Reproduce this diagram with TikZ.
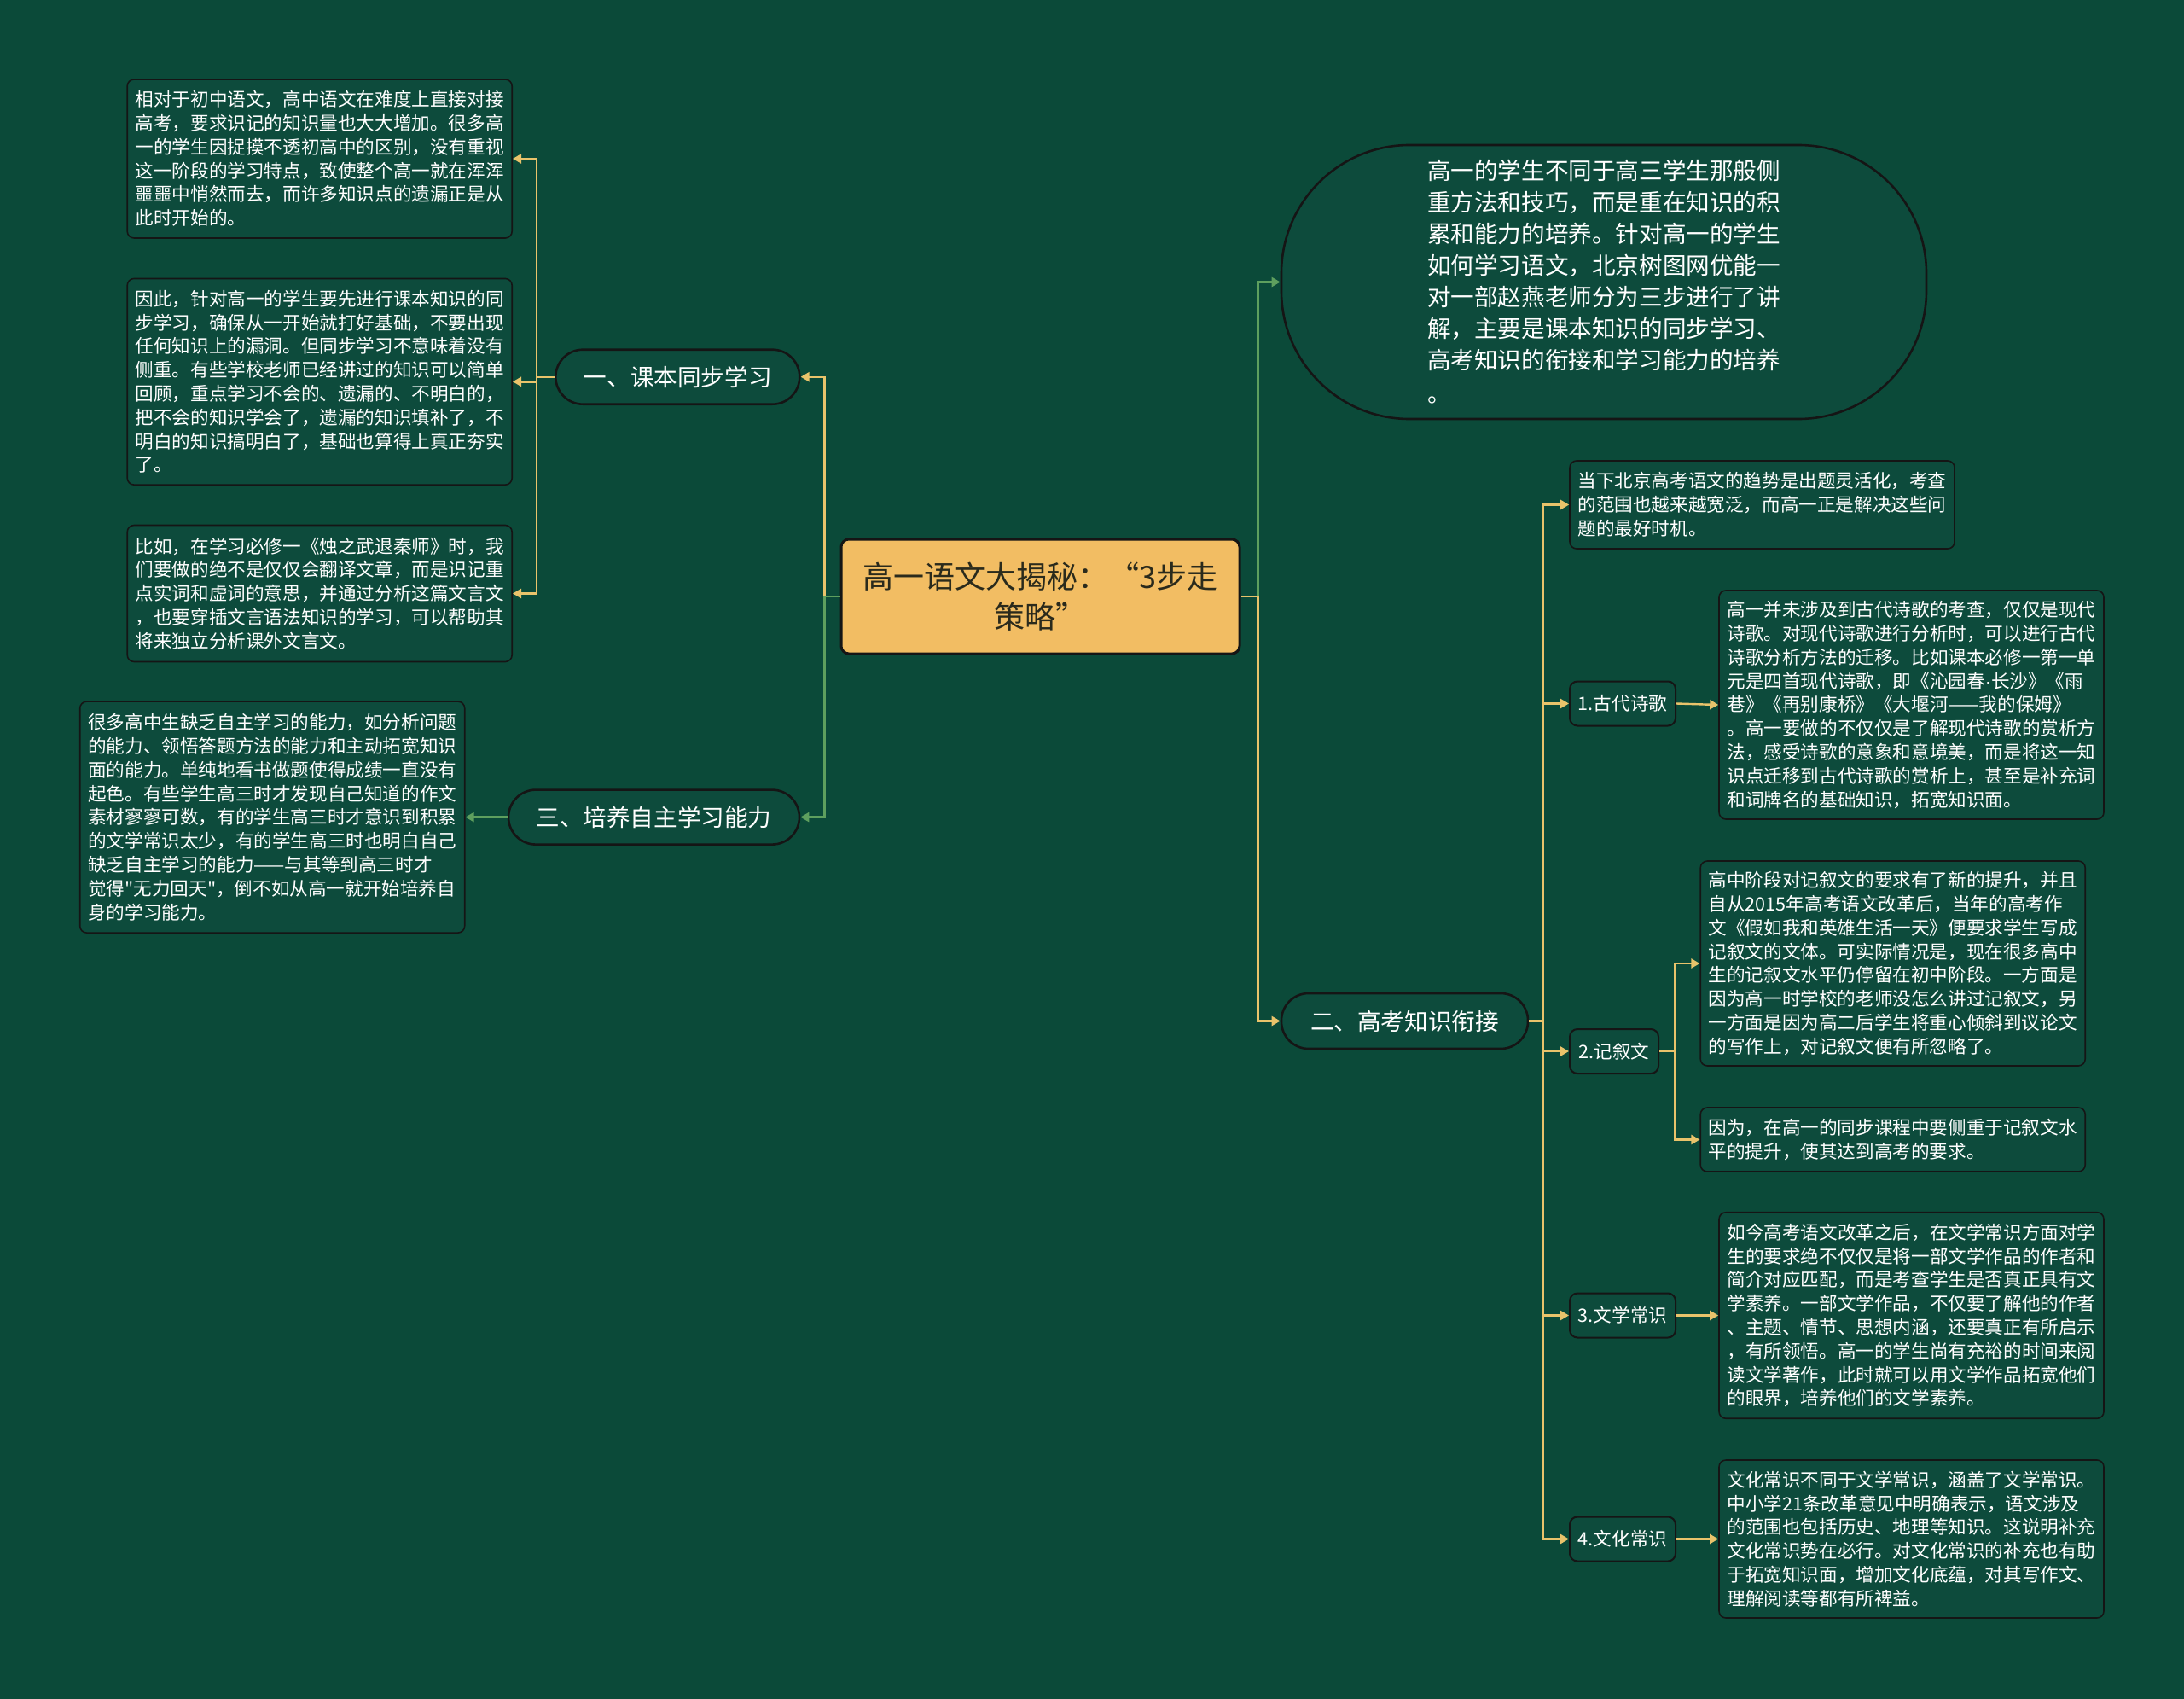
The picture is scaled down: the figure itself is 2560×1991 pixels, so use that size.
\documentclass[tikz,border=0pt]{standalone}
\usepackage{fontspec}
\setmainfont{Noto Sans CJK SC}[Ligatures=TeXOff]
\newfontfamily\latinfont{Liberation Sans}
\usetikzlibrary{arrows.meta}
\definecolor{bg}{HTML}{0B4A39}
\definecolor{boxfill}{HTML}{0D4B3C}
\definecolor{ylw}{HTML}{E9C36B}
\definecolor{grn}{HTML}{5E9F5E}
\definecolor{rootfill}{HTML}{F2BD63}
\definecolor{roottext}{HTML}{2A2A1C}
\definecolor{edge}{HTML}{151515}
\begin{document}
\begin{tikzpicture}[x=1pt,y=-1pt,
  txt/.style={draw=edge, line width=1.6pt, fill=boxfill, rounded corners=8pt, text=white,
    align=left, inner sep=0pt, minimum width=451pt, font=\fontsize{21.6}{27.8}\selectfont},
  pill/.style={draw=edge, line width=2.6pt, fill=boxfill, text=white, inner sep=0pt,
    minimum height=64pt, rounded corners=32pt, font=\fontsize{27.6}{37}\selectfont},
  tag/.style={draw=edge, line width=2pt, fill=boxfill, rounded corners=9pt, text=white,
    inner sep=0pt, minimum height=52pt, font=\fontsize{21.6}{26}\selectfont},
  rootbox/.style={draw=edge, line width=3pt, fill=rootfill, rounded corners=9pt, text=roottext,
    align=center, inner sep=0pt, font=\fontsize{36}{47}\selectfont},
  yl/.style={draw=ylw, line width=2.4pt, -{Triangle[length=10pt,width=11pt]}},
  gl/.style={draw=grn, line width=2.4pt, -{Triangle[length=10pt,width=11pt]}}
]
\fill[bg] (0,0) rectangle (2560,1991);
\useasboundingbox (0,0) rectangle (2560,1991);

% root
\node[rootbox, minimum width=467pt, minimum height=134pt] (root) at (1219.5,699)
  {高一语文大揭秘：“3步走\\策略”};

% level 1
\node[pill, minimum width=286pt] (n1) at (794.3,441.7) {一、课本同步学习};
\node[pill, minimum width=341pt] (n3) at (766.5,957.6) {三、培养自主学习能力};
\node[pill, minimum width=289pt, minimum height=65pt] (n2) at (1646.5,1196.5) {二、高考知识衔接};
\node[draw=edge, line width=2.6pt, fill=boxfill, text=white, inner sep=0pt,
  minimum width=756pt, minimum height=321pt, rounded corners=150pt, align=left,
  font=\fontsize{27.6}{37}\selectfont] (big) at (1880,330.5)
  {高一的学生不同于高三学生那般侧\hspace{14pt}\\重方法和技巧，而是重在知识的积\\累和能力的培养。针对高一的学生\\如何学习语文，北京树图网优能一\\对一部赵燕老师分为三步进行了讲\\解，主要是课本知识的同步学习、\\高考知识的衔接和学习能力的培养\\[2pt]。};

% left text boxes
\node[txt, minimum height=186pt] (bA) at (374.7,186)
  {相对于初中语文，高中语文在难度上直接对接\\高考，要求识记的知识量也大大增加。很多高\\一的学生因捉摸不透初高中的区别，没有重视\\这一阶段的学习特点，致使整个高一就在浑浑\\噩噩中悄然而去，而许多知识点的遗漏正是从\\此时开始的。};
\node[txt, minimum height=241.7pt] (bB) at (374.7,447.3)
  {因此，针对高一的学生要先进行课本知识的同\\步学习，确保从一开始就打好基础，不要出现\\任何知识上的漏洞。但同步学习不意味着没有\\侧重。有些学校老师已经讲过的知识可以简单\\回顾，重点学习不会的、遗漏的、不明白的，\\把不会的知识学会了，遗漏的知识填补了，不\\明白的知识搞明白了，基础也算得上真正夯实\\了。};
\node[txt, minimum height=160pt] (bC) at (374.7,695.5)
  {比如，在学习必修一《烛之武退秦师》时，我\\们要做的绝不是仅仅会翻译文章，而是识记重\\点实词和虚词的意思，并通过分析这篇文言文\\，也要穿插文言语法知识的学习，可以帮助其\\将来独立分析课外文言文。};
\node[txt, minimum height=271pt] (bD) at (319.2,957.6)
  {很多高中生缺乏自主学习的能力，如分析问题\\的能力、领悟答题方法的能力和主动拓宽知识\\面的能力。单纯地看书做题使得成绩一直没有\\起色。有些学生高三时才发现自己知道的作文\\素材寥寥可数，有的学生高三时才意识到积累\\的文学常识太少，有的学生高三时也明白自己\\缺乏自主学习的能力——与其等到高三时才\\觉得"无力回天"，倒不如从高一就开始培养自\\身的学习能力。};

% right side
\node[txt, minimum height=103pt] (bE) at (2065.5,591.5)
  {当下北京高考语文的趋势是出题灵活化，考查\\的范围也越来越宽泛，而高一正是解决这些问\\题的最好时机。};
\node[tag, minimum width=124pt] (t1) at (1902,824.5) {1.古代诗歌};
\node[txt, minimum height=268pt] (bF) at (2240.5,826)
  {高一并未涉及到古代诗歌的考查，仅仅是现代\\诗歌。对现代诗歌进行分析时，可以进行古代\\诗歌分析方法的迁移。比如课本必修一第一单\\元是四首现代诗歌，即《沁园春{\latinfont ·}长沙》《雨\\巷》《再别康桥》《大堰河——我的保姆》\\。高一要做的不仅仅是了解现代诗歌的赏析方\\法，感受诗歌的意象和意境美，而是将这一知\\识点迁移到古代诗歌的赏析上，甚至是补充词\\和词牌名的基础知识，拓宽知识面。};
\node[tag, minimum width=104pt] (t2) at (1892,1232) {2.记叙文};
\node[txt, minimum height=240pt] (bG) at (2218.7,1129)
  {高中阶段对记叙文的要求有了新的提升，并且\\自从2015年高考语文改革后，当年的高考作\\文《假如我和英雄生活一天》便要求学生写成\\记叙文的文体。可实际情况是，现在很多高中\\生的记叙文水平仍停留在初中阶段。一方面是\\因为高一时学校的老师没怎么讲过记叙文，另\\一方面是因为高二后学生将重心倾斜到议论文\\的写作上，对记叙文便有所忽略了。};
\node[txt, minimum height=75pt] (bH) at (2218.7,1335.5)
  {因为，在高一的同步课程中要侧重于记叙文水\\平的提升，使其达到高考的要求。};
\node[tag, minimum width=124pt] (t3) at (1902,1541.5) {3.文学常识};
\node[txt, minimum height=241.5pt] (bI) at (2240.5,1541.5)
  {如今高考语文改革之后，在文学常识方面对学\\生的要求绝不仅仅是将一部文学作品的作者和\\简介对应匹配，而是考查学生是否真正具有文\\学素养。一部文学作品，不仅要了解他的作者\\、主题、情节、思想内涵，还要真正有所启示\\，有所领悟。高一的学生尚有充裕的时间来阅\\读文学著作，此时就可以用文学作品拓宽他们\\的眼界，培养他们的文学素养。};
\node[tag, minimum width=124pt] (t4) at (1902,1803.5) {4.文化常识};
\node[txt, minimum height=185pt] (bJ) at (2240.5,1803.5)
  {文化常识不同于文学常识，涵盖了文学常识。\\中小学21条改革意见中明确表示，语文涉及\\的范围也包括历史、地理等知识。这说明补充\\文化常识势在必行。对文化常识的补充也有助\\于拓宽知识面，增加文化底蕴，对其写作文、\\理解阅读等都有所裨益。};

% connectors, left
\draw[yl] (root.west) -- ++(-18,0) |- (n1.east);
\draw[gl] (root.west) -- ++(-18,0) |- (n3.east);
\draw[yl] (n1.west) -- ++(-21,0) |- (bA.east);
\draw[yl] (n1.west) -- ++(-21,0) |- (bB.east);
\draw[yl] (n1.west) -- ++(-21,0) |- (bC.east);
\draw[gl] (n3.west) -- (bD.east);

% connectors, right
\draw[gl] (root.east) -- ++(20,0) |- (big.west);
\draw[yl] (root.east) -- ++(20,0) |- (n2.west);
\draw[yl] (n2.east) -- ++(16,0) |- (bE.west);
\draw[yl] (n2.east) -- ++(16,0) |- (t1.west);
\draw[yl] (n2.east) -- ++(16,0) |- (t2.west);
\draw[yl] (n2.east) -- ++(16,0) |- (t3.west);
\draw[yl] (n2.east) -- ++(16,0) |- (t4.west);
\draw[yl] (t1.east) -- (bF.west);
\draw[yl] (t2.east) -- ++(18.5,0) |- (bG.west);
\draw[yl] (t2.east) -- ++(18.5,0) |- (bH.west);
\draw[yl] (t3.east) -- (bI.west);
\draw[yl] (t4.east) -- (bJ.west);
\end{tikzpicture}
\end{document}
